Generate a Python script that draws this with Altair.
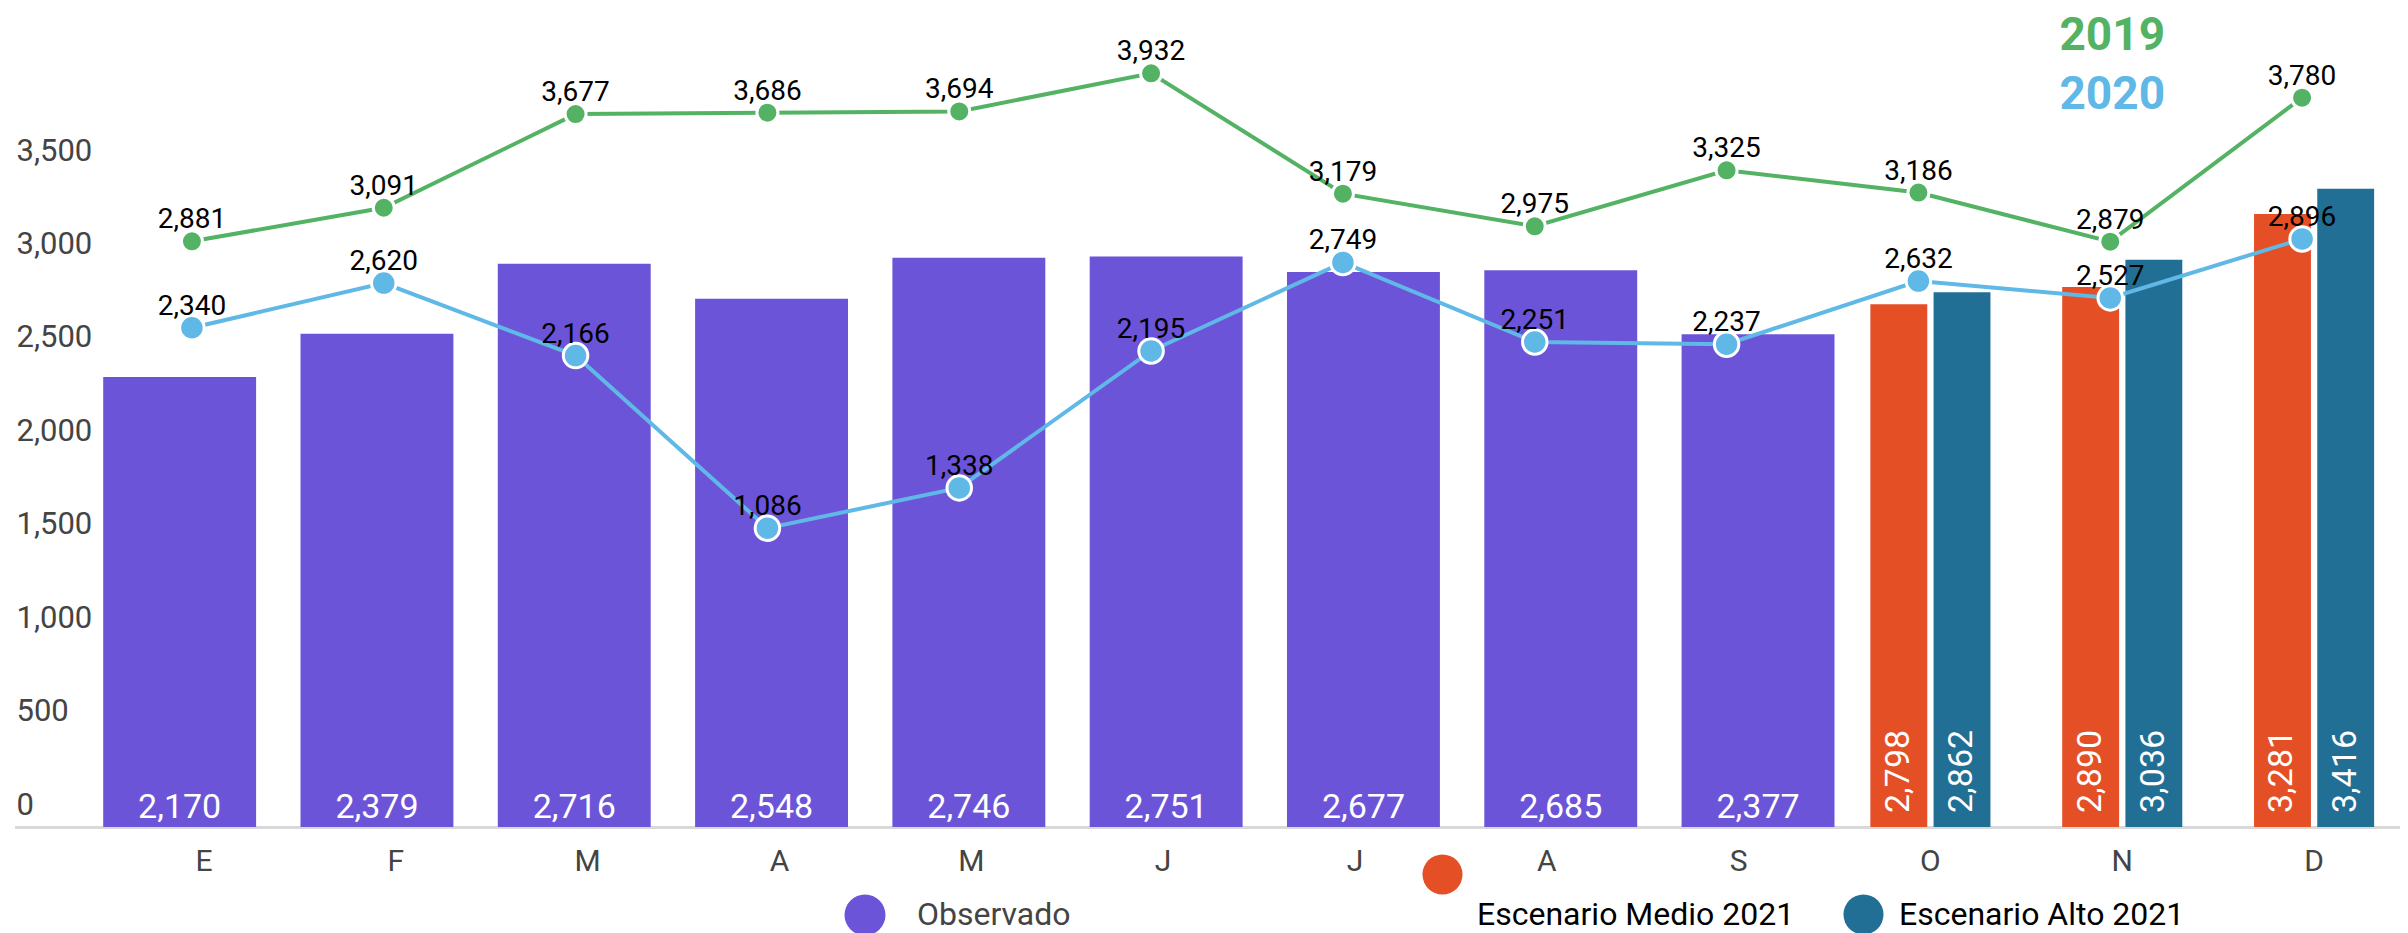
import altair as alt
import pandas as pd

# ---------------- data ----------------
meses = ["Enero", "Febrero", "Marzo", "Abril", "Mayo", "Junio", "Julio",
         "Agosto", "Septiembre", "Octubre", "Noviembre", "Diciembre"]
meses_obs = meses[:9]
observado = [2170, 2379, 2716, 2548, 2746, 2751, 2677, 2685, 2377]
meses_esc = ["Octubre", "Noviembre", "Diciembre"]
esc_medio = [2798, 2890, 3281]
esc_alto = [2862, 3036, 3416]
serie_2019 = [2881, 3091, 3677, 3686, 3694, 3932, 3179, 2975, 3325, 3186, 2879, 3780]
serie_2020 = [2340, 2620, 2166, 1086, 1338, 2195, 2749, 2251, 2237, 2632, 2527, 2896]
eje_y = [0, 500, 1000, 1500, 2000, 2500, 3000, 3500]
anios = ["2019", "2020"]

MEDIO = "Escenario Medio 2021"
ALTO = "Escenario Alto 2021"

PURPLE = "#6c54d9"
ORANGE = "#e44f25"
DBLUE = "#226f96"
LBLUE = "#5fb8e6"
GREEN = "#53b264"

obs_df = pd.DataFrame({"mes": meses_obs, "valor": observado, "serie": "Observado"})
esc_df = pd.DataFrame({"mes": meses_esc * 2, "valor": esc_medio + esc_alto,
                       "esc": [MEDIO] * 3 + [ALTO] * 3,
                       "clave": ["medio"] * 3 + ["alto"] * 3})
lin_df = pd.DataFrame({"mes": meses * 2, "valor": serie_2019 + serie_2020,
                       "serie": ["2019"] * 12 + ["2020"] * 12,
                       "orden": list(range(12)) * 2})
year_df = pd.DataFrame({"serie": anios})

# ---------------- layout ----------------
W, H = 2385, 819

x_obs = alt.Scale(domain=meses, range=[66, 2433.6], paddingInner=0.225, paddingOuter=0.1125)
x_main = alt.Scale(domain=meses, range=[93, 2395], paddingInner=0.374, paddingOuter=0.187)
x_line = alt.Scale(type="point", domain=meses, range=[81, 2383], padding=0.5)
x_off = alt.Scale(domain=[MEDIO, ALTO], paddingInner=0.1, paddingOuter=0)

y_obs = alt.Scale(domain=[0, 3950], nice=False, zero=True)
y_axis = alt.Scale(domain=[0, 4384], nice=False, zero=True)
y_line = alt.Scale(domain=[-784, 4341], nice=False, zero=False)

line_color = alt.Scale(domain=anios, range=[GREEN, LBLUE])

# baseline
base_rule = alt.Chart(pd.DataFrame({"k": [0]})).mark_rule(
    color="#d9d9d9", strokeWidth=3
).encode(x=alt.value(0), x2=alt.value(W), y=alt.value(H + 0.5))

# observed bars
obs_bars = alt.Chart(obs_df).mark_bar().encode(
    x=alt.X("mes:N", scale=x_obs, axis=None),
    y=alt.Y("valor:Q", scale=y_obs, axis=None),
    color=alt.Color("serie:N", scale=alt.Scale(domain=["Observado"], range=[PURPLE]),
                    legend=alt.Legend(orient="none", legendX=829.5, legendY=886.5,
                                      title=None, symbolType="circle", symbolSize=1681,
                                      symbolStrokeWidth=0, labelFontSize=32,
                                      labelColor="#444444", labelOffset=31.5,
                                      padding=0, labelLimit=800)),
)
obs_text = alt.Chart(obs_df).mark_text(
    color="white", fontSize=34, baseline="alphabetic", dy=-9
).encode(
    x=alt.X("mes:N", scale=x_obs, axis=None),
    y=alt.YDatum(0, type="quantitative", scale=y_obs, axis=None),
    text=alt.Text("valor:Q", format=","),
)

x_axis = alt.Axis(orient="bottom", labelExpr="substring(datum.label, 0, 1)",
                  domain=False, ticks=False, grid=False, title=None, labelAngle=0,
                  labelFontSize=30, labelColor="#444444", labelPadding=19,
                  labelBaseline="top")
y_ax = alt.Axis(orient="left", values=eje_y, labelExpr="format(datum.value, ',')",
                labelAlign="left", labelPadding=-1, labelOffset=-22, labelFontSize=31,
                labelColor="#444444", domain=False, ticks=False, grid=False,
                title=None, labelBaseline="middle")

medio_bars = alt.Chart(esc_df).transform_filter(alt.datum.esc == MEDIO).mark_bar().encode(
    x=alt.X("mes:N", scale=x_main, axis=x_axis),
    xOffset=alt.XOffset("esc:N", scale=x_off),
    y=alt.Y("valor:Q", scale=y_axis, axis=y_ax),
    color=alt.Color("clave:N", scale=alt.Scale(domain=["medio"], range=[ORANGE]),
                    legend=alt.Legend(orient="none", legendX=1407.5, legendY=846.5,
                                      title=None, symbolType="circle", symbolSize=1600,
                                      symbolStrokeWidth=0, labelExpr="''", padding=0)),
    opacity=alt.Opacity("esc:O",
                        scale=alt.Scale(type="ordinal", domain=[MEDIO], range=[1]),
                        legend=alt.Legend(orient="none", legendX=1407.5, legendY=891,
                                          title=None, symbolType="circle", symbolSize=1,
                                          symbolFillColor="white", symbolStrokeColor="white",
                                          symbolOpacity=0, symbolStrokeWidth=0,
                                          labelFontSize=32, labelColor="black",
                                          labelOffset=22.5, padding=0, labelLimit=800)),
)
alto_bars = alt.Chart(esc_df).transform_filter(alt.datum.esc == ALTO).mark_bar().encode(
    x=alt.X("mes:N", scale=x_main, axis=None),
    xOffset=alt.XOffset("esc:N", scale=x_off),
    y=alt.Y("valor:Q", scale=y_axis, axis=None),
    color=alt.Color("esc:N", scale=alt.Scale(domain=[ALTO], range=[DBLUE]),
                    legend=alt.Legend(orient="none", legendX=1828.5, legendY=886.5,
                                      title=None, symbolType="circle", symbolSize=1600,
                                      symbolStrokeWidth=0, labelFontSize=32,
                                      labelColor="black", labelOffset=15.5,
                                      padding=0, labelLimit=800)),
)


def esc_labels(nombre, desplazamiento):
    return alt.Chart(esc_df).transform_filter(alt.datum.esc == nombre).mark_text(
        color="white", fontSize=34, angle=270, align="left", baseline="middle",
        dx=14, dy=desplazamiento
    ).encode(
        x=alt.X("mes:N", scale=x_main, axis=None),
        y=alt.YDatum(0, type="quantitative", scale=y_axis, axis=None),
        text=alt.Text("valor:Q", format=","),
    )


medio_text = esc_labels(MEDIO, -31.6)
alto_text = esc_labels(ALTO, 31.6)

# lines
lines = alt.Chart(lin_df).mark_line(strokeWidth=4).encode(
    x=alt.X("mes:N", scale=x_line, axis=None),
    y=alt.Y("valor:Q", scale=y_line, axis=None),
    color=alt.Color("serie:N", scale=line_color, legend=None),
    order=alt.Order("orden:Q"),
)
points = alt.Chart(lin_df).mark_circle(opacity=1, stroke="white", strokeWidth=3).encode(
    x=alt.X("mes:N", scale=x_line, axis=None),
    y=alt.Y("valor:Q", scale=y_line, axis=None),
    color=alt.Color("serie:N", scale=line_color, legend=None),
    size=alt.Size("serie:O", scale=alt.Scale(type="ordinal", domain=anios, range=[441, 600]),
                  legend=None),
)
line_labels = alt.Chart(lin_df).mark_text(
    fontSize=28, color="black", baseline="alphabetic", dy=-13
).encode(
    x=alt.X("mes:N", scale=x_line, axis=None),
    y=alt.Y("valor:Q", scale=y_line, axis=None),
    text=alt.Text("valor:Q", format=","),
)
year_text = alt.Chart(year_df).mark_text(
    fontSize=46, fontWeight="bold", baseline="middle", dx=-10
).encode(
    x=alt.XDatum("Noviembre", type="nominal", scale=x_main, axis=None),
    y=alt.Y("serie:N", scale=alt.Scale(type="point", domain=anios, range=[28, 87], padding=0),
            axis=None),
    color=alt.Color("serie:N", scale=line_color, legend=None),
    text="serie:N",
)

chart = alt.layer(
    base_rule, obs_bars, medio_bars, alto_bars, obs_text, medio_text, alto_text,
    lines, points, line_labels, year_text
).resolve_scale(
    x="independent", y="independent", color="independent",
    opacity="independent", xOffset="independent", size="independent"
).properties(
    width=W, height=H, autosize="none",
    padding={"left": 7, "top": 0, "right": 0, "bottom": 108},
    background="white",
).configure(font="Roboto").configure_view(stroke=None)

chart.save("out.html", embed_options={"renderer": "svg", "actions": False})
